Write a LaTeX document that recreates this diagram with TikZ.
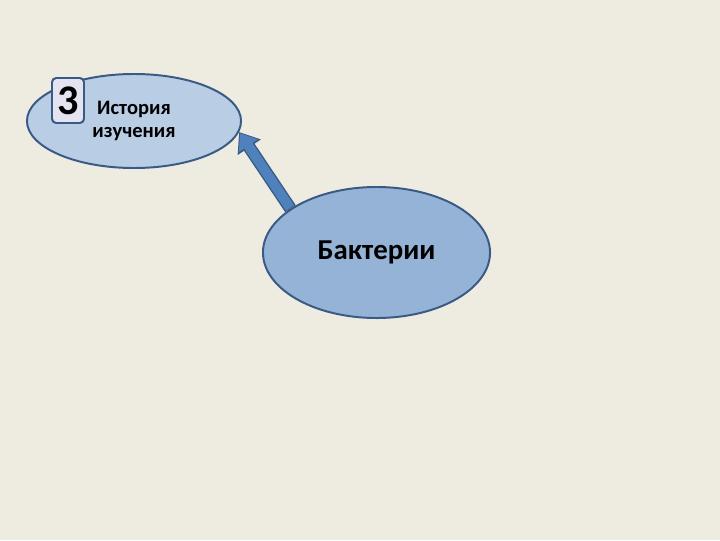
\documentclass[tikz,border=0pt]{standalone}
\usepackage{fontspec}
\setmainfont{Carlito}
\usetikzlibrary{shapes.geometric,arrows.meta}
\definecolor{bgtan}{HTML}{EEECE1}
\definecolor{lightblue}{HTML}{B9CDE5}
\definecolor{midblue}{HTML}{95B3D7}
\definecolor{arrowblue}{HTML}{4F81BD}
\definecolor{edgeblue}{HTML}{3A5A86}
\definecolor{boxfill}{HTML}{E4E4F0}
\tikzset{
  topic/.style={ellipse, draw=edgeblue, line width=1.4pt, inner sep=0pt, align=center},
  numbox/.style={draw=edgeblue, fill=boxfill, line width=1.4pt, rounded corners=3pt,
    minimum width=0.8cm, minimum height=1.125cm, inner sep=0pt}
}
\begin{document}
\begin{tikzpicture}[x=0.025cm,y=-0.025cm]
\fill [bgtan] (0,0) rectangle (720,540);
\useasboundingbox (0,0) rectangle (720,540);
\node [topic, fill=lightblue, minimum width=5.35cm, minimum height=2.35cm,
  font=\bfseries\fontsize{14.6}{16.8}\selectfont] (hist) at (134,121) {История\\изучения};
\node [numbox, font=\bfseries\fontsize{30}{30}\selectfont] (num) at (68,100.5) {3};
\node [topic, fill=midblue, minimum width=5.675cm, minimum height=3.275cm,
  font=\bfseries\fontsize{20.5}{22}\selectfont] (bact) at (376.5,252.5) {Бактерии};
\draw [edgeblue, line width=9pt, -{Triangle[length=13pt,width=19pt]}] (bact.153) -- (hist.-6);
\draw [arrowblue, line width=7pt, -{Triangle[length=10.5pt,width=15.5pt]}, shorten >=1.2pt, shorten <=0.6pt] (bact.153) -- (hist.-6);
\end{tikzpicture}
\end{document}
